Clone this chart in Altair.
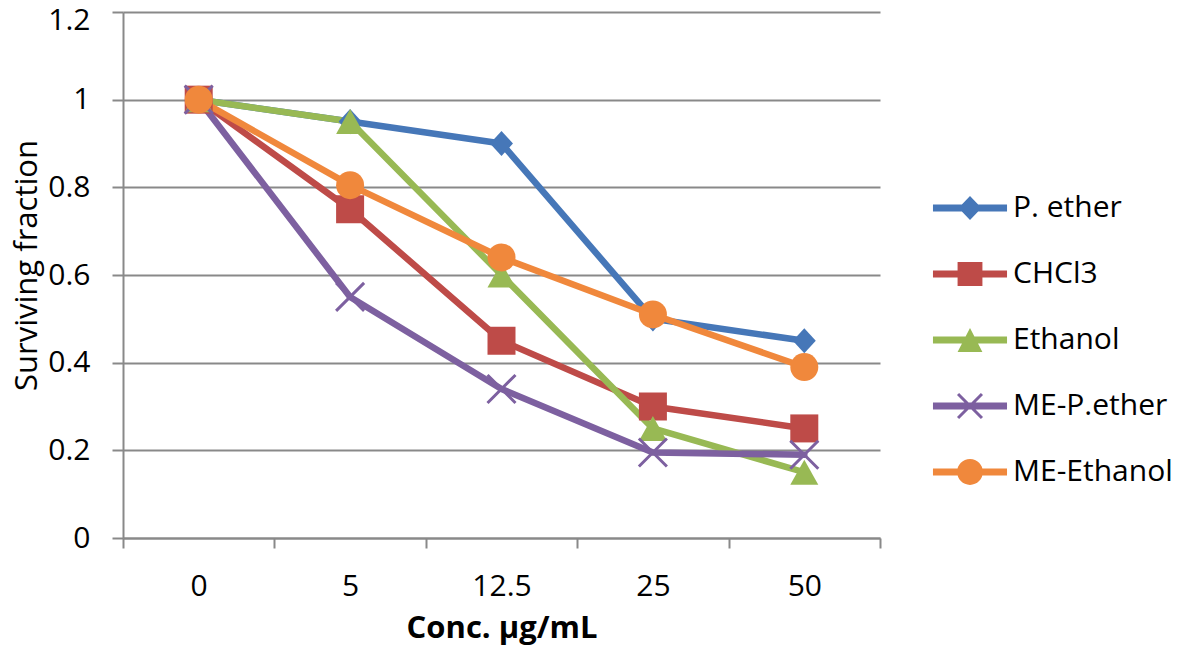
import altair as alt
import pandas as pd

# ---- data ----
conc_labels = ["0", "5", "12.5", "25", "50"]
series_names = ["P. ether", "CHCl3", "Ethanol", "ME-P.ether", "ME-Ethanol"]
p_ether = [1.00, 0.95, 0.90, 0.50, 0.45]
chcl3 = [1.00, 0.75, 0.45, 0.30, 0.25]
ethanol = [1.00, 0.95, 0.60, 0.25, 0.15]
me_p_ether = [1.00, 0.55, 0.34, 0.195, 0.19]
me_ethanol = [1.00, 0.805, 0.64, 0.51, 0.39]
y_ticks = [0, 0.2, 0.4, 0.6, 0.8, 1, 1.2]

colors = ["#4677B8", "#BE4B48", "#98B954", "#7D60A0", "#F0883C"]

values = [p_ether, chcl3, ethanol, me_p_ether, me_ethanol]
rows = []
for name, vals in zip(series_names, values):
    for i, (c, v) in enumerate(zip(conc_labels, vals)):
        rows.append({"series": name, "idx": i, "conc": c, "value": v})
df = pd.DataFrame(rows)

# marker shapes in the plot
marker_paths = [
    "M-0.82,0L0,-0.9L0.82,0L0,0.9Z",
    "square",
    "M-1,0.89L0,-0.89L1,0.89Z",
    "M-1,-1L1,1M-1,1L1,-1",
    "circle",
]

# legend symbols: line segment + marker (all clockwise subpaths)
line = "M-1.61,-0.15L1.61,-0.15L1.61,0.15L-1.61,0.15Z"
legend_paths = [
    line + "M-0.5,0L0,-0.52L0.5,0L0,0.52Z",
    line + "M-0.54,-0.52L0.54,-0.52L0.54,0.52L-0.54,0.52Z",
    line + "M-0.54,0.52L0,-0.52L0.54,0.52Z",
    line + "M-0.474,-0.566L0.566,0.474L0.474,0.566L-0.566,-0.474Z"
           "M-0.566,0.474L0.474,-0.566L0.566,-0.474L-0.474,0.566Z",
    line + "M0.56,0A0.56,0.56,0,1,1,-0.56,0A0.56,0.56,0,1,1,0.56,0Z",
]

n = len(conc_labels)
W, H = 757, 526
gray = "#898989"
font = "Open Sans"

label_arr = "[" + ",".join("'" + c + "'" for c in conc_labels) + "]"
x_scale = alt.Scale(domain=[-0.5, n - 0.5], nice=False, zero=False)
x_axis = alt.Axis(
    title="Conc. µg/mL",
    values=[i - 0.5 for i in range(n + 1)],
    labelExpr=label_arr + "[datum.value + 0.5] || ''",
    labelOffset=W / n / 2,
    labelAlign="center",
    labelBaseline="top",
    labelOverlap=False,
    labelBound=False,
    labelFlush=False,
    labelPadding=23,
    labelFont=font,
    labelFontSize=30,
    labelColor="black",
    grid=False,
    domainColor=gray,
    domainWidth=2,
    tickColor=gray,
    tickWidth=2,
    tickSize=10,
    titleFont=font,
    titleFontSize=31,
    titleFontWeight="bold",
    titleColor="black",
    titlePadding=12,
)
y_scale = alt.Scale(domain=[0, 1.2], nice=False)
y_axis = alt.Axis(
    title="Surviving fraction",
    values=y_ticks,
    format="~g",
    labelFont=font,
    labelFontSize=30,
    labelColor="black",
    labelPadding=22,
    labelOffset={"condition": {"test": "datum.value >= 1.2", "value": 8}, "value": 0},
    grid=True,
    gridColor=gray,
    gridWidth=2,
    domainColor=gray,
    domainWidth=2,
    tickColor=gray,
    tickWidth=2,
    tickSize=11,
    titleFont=font,
    titleFontSize=31,
    titleFontWeight="normal",
    titleColor="black",
    titleX=-80,
    titleY=253,
)

color_scale = alt.Scale(domain=series_names, range=colors)

X = alt.X("idx:Q", scale=x_scale, axis=x_axis)
Y = alt.Y("value:Q", scale=y_scale, axis=y_axis)

lines = alt.Chart(df).mark_line(
    strokeWidth=6.5, strokeCap="round", strokeJoin="round"
).encode(
    x=X, y=Y,
    color=alt.Color("series:N", scale=color_scale, legend=None),
)

points = alt.Chart(df).mark_point(filled=True, size=784, opacity=1).encode(
    x=X, y=Y,
    color=alt.Color("series:N", scale=color_scale, legend=None),
    stroke=alt.Stroke("series:N", scale=color_scale, legend=None),
    strokeWidth=alt.condition(alt.datum.series == "ME-P.ether", alt.value(3), alt.value(0)),
    shape=alt.Shape("series:N", scale=alt.Scale(domain=series_names, range=marker_paths), legend=None),
)

legend_layer = alt.Chart(df).transform_filter("false").mark_point(
    filled=True, opacity=1, strokeWidth=0
).encode(
    x=X, y=Y,
    fill=alt.Fill("series:N", scale=alt.Scale(domain=series_names, range=colors),
                  legend=alt.Legend(title=None)),
    shape=alt.Shape("series:N", scale=alt.Scale(domain=series_names, range=legend_paths),
                    legend=alt.Legend(title=None)),
)

chart = alt.layer(lines, points, legend_layer).resolve_scale(
    shape="independent", fill="independent"
).resolve_legend(
    shape="independent", fill="independent"
).properties(
    width=W, height=H,
    autosize=alt.AutoSizeParams(type="none"),
    padding={"left": 115, "top": 4, "right": 293, "bottom": 110},
).configure_view(strokeWidth=0).configure_legend(
    orient="none",
    legendX=824,
    legendY=173,
    labelFont=font,
    labelFontSize=30,
    labelColor="black",
    labelLimit=400,
    labelOffset=20,
    symbolSize=2116,
    symbolStrokeWidth=0,
    symbolFillColor="#000000",
    rowPadding=28,
    padding=0,
)

chart.save("out.html", embed_options={"renderer": "svg", "actions": False})
